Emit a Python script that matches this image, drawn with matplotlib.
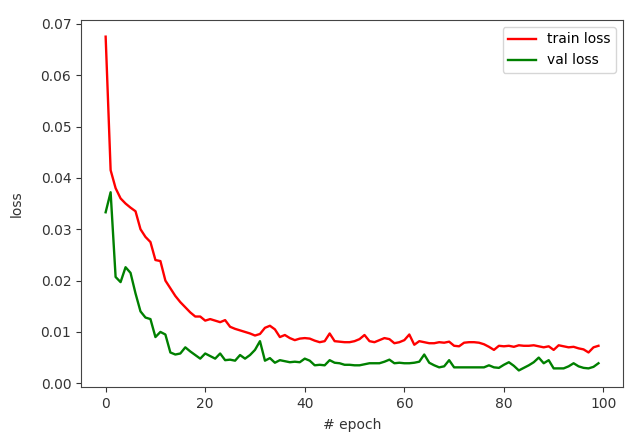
import matplotlib
matplotlib.use("Agg")
import matplotlib.pyplot as plt
import numpy as np

train_loss = [
    0.0675, 0.0415, 0.0380, 0.0360, 0.0350, 0.0342, 0.0335, 0.0300, 0.0285, 0.0275,
    0.0240, 0.0238, 0.0200, 0.0185, 0.0170, 0.0158, 0.0148, 0.0138, 0.0130, 0.0130,
    0.0122, 0.0125, 0.0122, 0.0119, 0.0123, 0.0110, 0.0106, 0.0103, 0.0100, 0.0097,
    0.0093, 0.0096, 0.0108, 0.0112, 0.0105, 0.0090, 0.0094, 0.0088, 0.0084, 0.0087,
    0.0088, 0.0087, 0.0083, 0.0080, 0.0082, 0.0097, 0.0082, 0.0081, 0.0080, 0.0080,
    0.0082, 0.0086, 0.0094, 0.0082, 0.0080, 0.0084, 0.0088, 0.0086, 0.0078, 0.0080,
    0.0084, 0.0095, 0.0075, 0.0082, 0.0080, 0.0078, 0.0078, 0.0080, 0.0079, 0.0081,
    0.0073, 0.0072, 0.0079, 0.0080, 0.0080, 0.0079, 0.0076, 0.0071, 0.0065, 0.0073,
    0.0072, 0.0073, 0.0071, 0.0074, 0.0073, 0.0073, 0.0074, 0.0072, 0.0070, 0.0072,
    0.0065, 0.0074, 0.0072, 0.0070, 0.0071, 0.0068, 0.0066, 0.0060, 0.0070, 0.0073,
]

val_loss = [
    0.0333, 0.0372, 0.0207, 0.0197, 0.0226, 0.0215, 0.0175, 0.0140, 0.0128, 0.0125,
    0.0090, 0.0100, 0.0095, 0.0060, 0.0056, 0.0058, 0.0070, 0.0062, 0.0055, 0.0048,
    0.0058, 0.0053, 0.0048, 0.0058, 0.0045, 0.0046, 0.0044, 0.0055, 0.0048, 0.0055,
    0.0065, 0.0082, 0.0044, 0.0049, 0.0040, 0.0045, 0.0043, 0.0041, 0.0042, 0.0041,
    0.0048, 0.0044, 0.0035, 0.0036, 0.0035, 0.0045, 0.0040, 0.0039, 0.0036, 0.0036,
    0.0035, 0.0035, 0.0037, 0.0039, 0.0039, 0.0039, 0.0042, 0.0046, 0.0039, 0.0040,
    0.0039, 0.0039, 0.0040, 0.0042, 0.0056, 0.0040, 0.0035, 0.0031, 0.0033, 0.0045,
    0.0031, 0.0031, 0.0031, 0.0031, 0.0031, 0.0031, 0.0031, 0.0035, 0.0031, 0.0030,
    0.0036, 0.0041, 0.0034, 0.0025, 0.0030, 0.0035, 0.0041, 0.0050, 0.0039, 0.0045,
    0.0029, 0.0029, 0.0029, 0.0033, 0.0039, 0.0033, 0.0030, 0.0029, 0.0032, 0.0039,
]

epochs = np.arange(len(train_loss))

fig = plt.figure(figsize=(6.26, 4.34), dpi=100)
ax = fig.add_axes([0.1294, 0.108, 0.866, 0.846])
ax.plot(epochs, train_loss, color="red", label="train loss", linewidth=1.7)
ax.plot(epochs, val_loss, color="green", label="val loss", linewidth=1.7)
ax.set_xlabel("# epoch", labelpad=5, color="#333333")
ax.set_ylabel("loss", labelpad=12, color="#333333")
ax.tick_params(colors="#333333")
for s in ax.spines.values():
    s.set_color("#444444")
ax.legend(loc="upper right")
fig.savefig("out.png", dpi=100)
